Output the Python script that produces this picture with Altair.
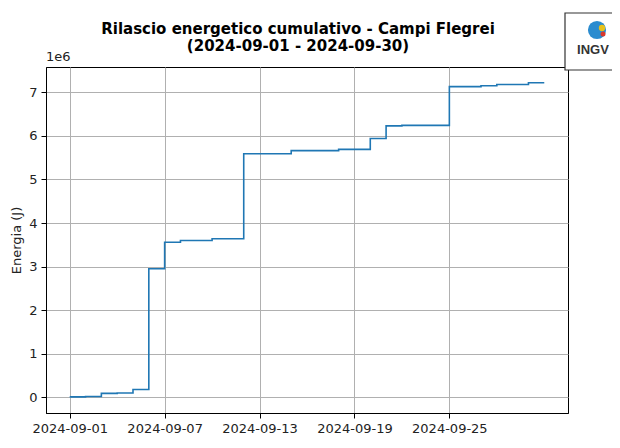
import altair as alt
import pandas as pd

dates = [
    "2024-09-01", "2024-09-02", "2024-09-03", "2024-09-04", "2024-09-05",
    "2024-09-06", "2024-09-07", "2024-09-08", "2024-09-09", "2024-09-10",
    "2024-09-11", "2024-09-12", "2024-09-13", "2024-09-14", "2024-09-15",
    "2024-09-16", "2024-09-17", "2024-09-18", "2024-09-19", "2024-09-20",
    "2024-09-21", "2024-09-22", "2024-09-23", "2024-09-24", "2024-09-25",
    "2024-09-26", "2024-09-27", "2024-09-28", "2024-09-29", "2024-09-30",
    "2024-10-01",
]
energy_j = [
    0.01e6, 0.02e6, 0.09e6, 0.10e6, 0.18e6,
    2.95e6, 3.56e6, 3.60e6, 3.60e6, 3.64e6,
    3.64e6, 5.59e6, 5.59e6, 5.59e6, 5.66e6,
    5.66e6, 5.66e6, 5.69e6, 5.69e6, 5.94e6,
    6.23e6, 6.24e6, 6.24e6, 6.24e6, 7.13e6,
    7.13e6, 7.15e6, 7.18e6, 7.18e6, 7.22e6,
    7.22e6,
]
tick_dates = ["2024-09-01", "2024-09-07", "2024-09-13", "2024-09-19", "2024-09-25"]
y_ticks = [0, 1, 2, 3, 4, 5, 6, 7]
title_lines = ["Rilascio energetico cumulativo - Campi Flegrei", "(2024-09-01 - 2024-09-30)"]

df = pd.DataFrame({"Data": [d + "T00:00:00" for d in dates], "E": energy_j})

FONT = "DejaVu Sans"
W, H = 522, 346


def dt(s, h=0):
    y, m, d = (int(v) for v in s.split("-"))
    return alt.DateTime(year=y, month=m, date=d, hours=h)


x_enc = alt.X(
    "Data:T",
    scale=alt.Scale(domain=[dt("2024-08-30", 12), dt("2024-10-02", 12)]),
    axis=alt.Axis(
        values=[dt(t) for t in tick_dates],
        format="%Y-%m-%d",
        title="Data",
        titlePadding=4,
        labelPadding=4,
    ),
)
y_enc = alt.Y(
    "Emil:Q",
    scale=alt.Scale(domain=[-0.36, 7.58], nice=False, zero=False),
    axis=alt.Axis(values=y_ticks, format="d", title="Energia (J)", titlePadding=5, labelPadding=4),
)

line = (
    alt.Chart(df)
    .transform_calculate(Emil="datum.E / 1000000")
    .mark_line(interpolate="step-after", color="#1f77b4", strokeWidth=1.6)
    .encode(x=x_enc, y=y_enc)
)

exp_label = alt.Chart(pd.DataFrame({"t": ["1e6"]})).mark_text(
    align="left", baseline="bottom", font=FONT, fontSize=13, color="#222"
).encode(x=alt.value(0), y=alt.value(-3), text="t:N")

title1 = alt.Chart(pd.DataFrame({"t": [title_lines[0]]})).mark_text(
    align="center", baseline="middle", font=FONT, fontSize=15, fontWeight="bold", color="black"
).encode(x=alt.value(252), y=alt.value(-38), text="t:N")

title2 = alt.Chart(pd.DataFrame({"t": [title_lines[1]]})).mark_text(
    align="center", baseline="middle", font=FONT, fontSize=15, fontWeight="bold", color="black"
).encode(x=alt.value(252), y=alt.value(-21), text="t:N")

logo_box = alt.Chart(pd.DataFrame({"a": [0]})).mark_rect(
    fill="white", stroke="#333", strokeWidth=1.2
).encode(x=alt.value(519), x2=alt.value(570), y=alt.value(-54), y2=alt.value(3))

globe = alt.Chart(pd.DataFrame({"a": [0]})).mark_point(
    shape="circle", filled=True, size=330, color="#2b8ccf", opacity=1
).encode(x=alt.value(551), y=alt.value(-37))

globe_r = alt.Chart(pd.DataFrame({"a": [0]})).mark_point(
    shape="circle", filled=True, size=40, color="#e8c21c", opacity=1
).encode(x=alt.value(556), y=alt.value(-39))

globe_r2 = alt.Chart(pd.DataFrame({"a": [0]})).mark_point(
    shape="circle", filled=True, size=25, color="#d9372b", opacity=1
).encode(x=alt.value(557), y=alt.value(-33))

logo_text = alt.Chart(pd.DataFrame({"t": ["INGV"]})).mark_text(
    font="Liberation Sans", fontWeight="bold", fontSize=13, color="#333",
    align="center", baseline="middle"
).encode(x=alt.value(547), y=alt.value(-17), text="t:N")

chart = (
    alt.layer(line, exp_label, title1, title2, logo_box, globe, globe_r, globe_r2, logo_text)
    .properties(
        width=W,
        height=H,
        padding={"left": 38, "top": 59, "right": 44, "bottom": 27},
        autosize=alt.AutoSizeParams(type="none"),
    )
    .configure_view(stroke="black", strokeWidth=1)
    .configure_axis(
        labelFont=FONT, titleFont=FONT, labelFontSize=13, titleFontSize=13,
        labelColor="#222", titleColor="#222", titleFontWeight="normal",
        grid=True, gridColor="#b0b0b0", gridWidth=1,
        domainColor="black", tickColor="black", tickSize=5,
    )
)

chart.save("out.html", embed_options={"renderer": "svg", "actions": False})
